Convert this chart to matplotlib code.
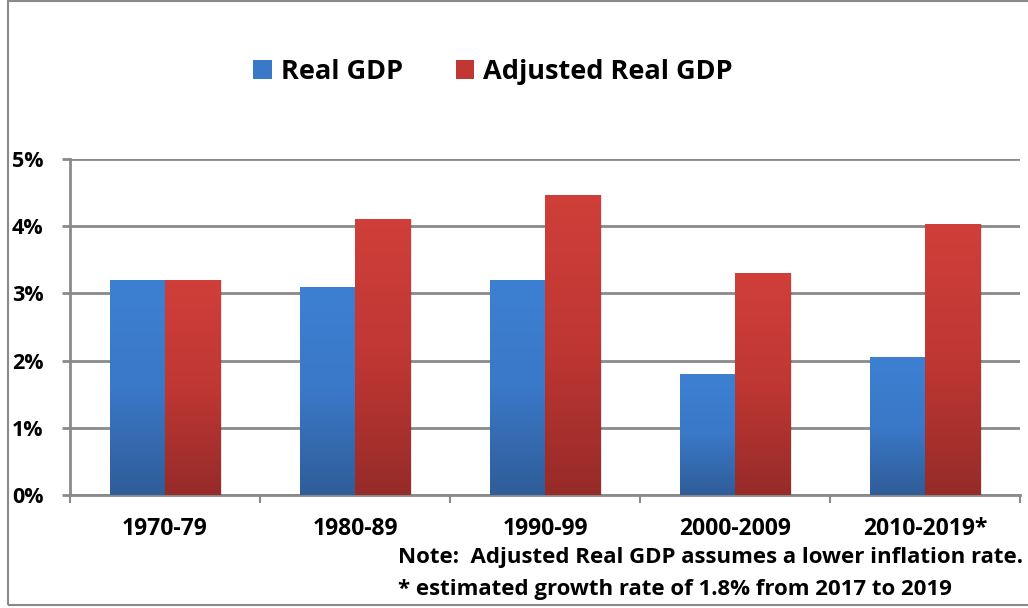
import numpy as np
import matplotlib
matplotlib.use("Agg")
import matplotlib.pyplot as plt
from matplotlib.patches import Rectangle, Patch
from matplotlib.colors import LinearSegmentedColormap

categories = ["1970-79", "1980-89", "1990-99", "2000-2009", "2010-2019*"]
real_gdp = [3.2, 3.1, 3.2, 1.8, 2.05]
adjusted_gdp = [3.2, 4.1, 4.47, 3.3, 4.03]
yticks = [0, 1, 2, 3, 4, 5]
ytick_labels = ["0%", "1%", "2%", "3%", "4%", "5%"]
series_names = ["Real GDP", "Adjusted Real GDP"]
note_lines = ["Note:  Adjusted Real GDP assumes a lower inflation rate.",
              "* estimated growth rate of 1.8% from 2017 to 2019"]

FONT = ["Open Sans", "DejaVu Sans"]
plt.rcParams['font.family'] = FONT

W, H = 1028, 608
fig = plt.figure(figsize=(W / 100, H / 100), dpi=100)
ax = fig.add_axes([70 / W, (H - 495) / H, (1020 - 70) / W, (495 - 159) / H])

blue_cmap = LinearSegmentedColormap.from_list("b", ["#2f5d98", "#3a78c8", "#3d80d2"])
red_cmap = LinearSegmentedColormap.from_list("r", ["#962b29", "#bf3733", "#d03f3a"])

x = np.arange(len(categories))
bw = 0.29
bars_b = ax.bar(x - bw / 2, real_gdp, bw, color="#3a78c8", zorder=3)
bars_r = ax.bar(x + bw / 2, adjusted_gdp, bw, color="#c03733", zorder=3)

grad = np.linspace(0, 1, 256).reshape(-1, 1)
for bars, cmap in ((bars_b, blue_cmap), (bars_r, red_cmap)):
    for p in bars:
        x0, y0 = p.get_x(), p.get_y()
        w, h = p.get_width(), p.get_height()
        sh = Rectangle((x0 + 0.012, y0), w, h, facecolor="#000000", alpha=0.10,
                       edgecolor="none", zorder=2)
        ax.add_patch(sh)
        im = ax.imshow(grad, cmap=cmap, aspect="auto", origin="lower",
                       extent=(x0, x0 + w, y0, y0 + h), zorder=4)
        im.set_clip_path(p)

ax.set_xlim(-0.5, len(categories) - 0.5)
ax.set_ylim(0, 5)
ax.set_yticks(yticks)
ax.set_yticklabels(ytick_labels, fontsize=15.5, fontweight="bold")
ax.yaxis.grid(True, color="#8a8a8a", linewidth=2, zorder=1)
ax.set_axisbelow(True)
ax.tick_params(axis="y", length=6, width=2, color="#8a8a8a", pad=13)

ax.set_xticks(x)
ax.set_xticklabels(categories, fontsize=16.5, fontweight="bold")
ax.tick_params(axis="x", length=0, pad=16)
ax.set_xticks(np.arange(len(categories) + 1) - 0.5, minor=True)
ax.tick_params(axis="x", which="minor", length=6, width=1.5, color="#8a8a8a")

for s in ["top", "right"]:
    ax.spines[s].set_visible(False)
for s in ["left", "bottom"]:
    ax.spines[s].set_color("#8a8a8a")
    ax.spines[s].set_linewidth(2)

handles = [Patch(facecolor="#3a78c8"), Patch(facecolor="#c03733")]
leg = fig.legend(handles, series_names, loc="center", bbox_to_anchor=(493 / W, 1 - 72 / H),
                 ncol=2, frameon=False, prop={"family": FONT, "weight": "bold", "size": 19.5},
                 handlelength=0.68, handleheight=0.68, handletextpad=0.33, columnspacing=1.95)

fig.text(398 / W, 1 - 558 / H, note_lines[0], fontsize=16, fontweight="bold", va="center", ha="left")
fig.text(398 / W, 1 - 589 / H, note_lines[1], fontsize=16, fontweight="bold", va="center", ha="left")

fig.add_artist(Rectangle((8 / W, 3 / H), 1.2, 1 - 4 / H, transform=fig.transFigure,
                         facecolor="none", edgecolor="#8a8a8a", linewidth=1.5))

fig.savefig("out.png", dpi=100)
